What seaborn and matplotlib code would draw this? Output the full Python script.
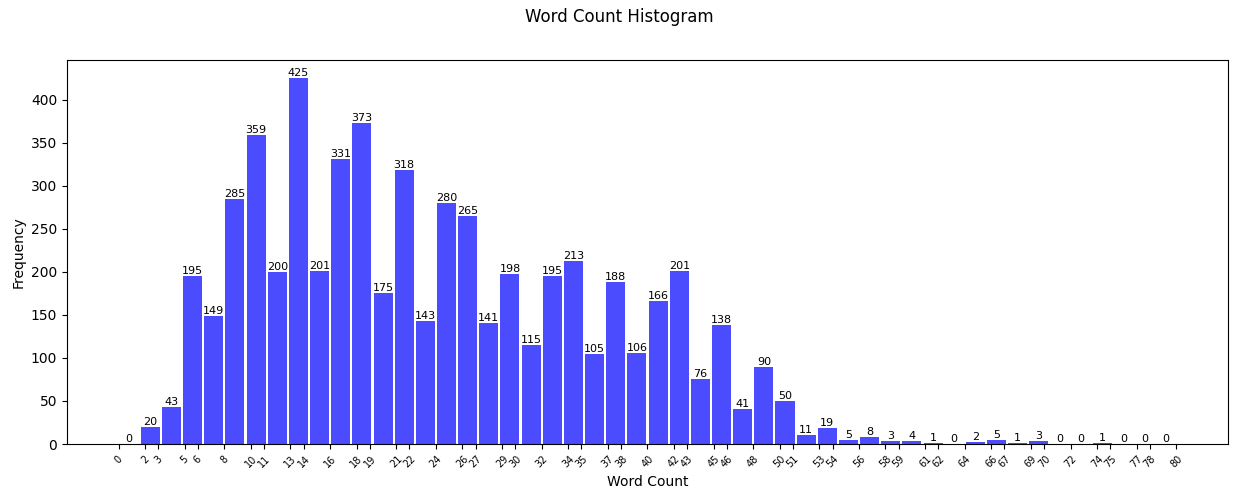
import matplotlib
matplotlib.use("Agg")
import matplotlib.pyplot as plt
import seaborn as sns
import numpy as np

bin_edges = list(np.linspace(0, 80, 51))
counts = [0, 20, 43, 195, 149, 285, 359, 200, 425, 201,
          331, 373, 175, 318, 143, 280, 265, 141, 198, 115,
          195, 213, 105, 188, 106, 166, 201, 76, 138, 41,
          90, 50, 11, 19, 5, 8, 3, 4, 1, 0,
          2, 5, 1, 3, 0, 0, 1, 0, 0, 0]
centers = [(bin_edges[i] + bin_edges[i + 1]) / 2 for i in range(len(counts))]
tick_values = [int(round(e)) for e in bin_edges]
tick_labels = [str(v) for v in tick_values]

fig = plt.figure(figsize=(12.38, 5), dpi=100)
ax = fig.add_axes([0.054, 0.112, 0.938, 0.768])
sns.histplot(x=centers, weights=counts, bins=bin_edges, shrink=0.9,
             color="blue", alpha=0.7, edgecolor="none", linewidth=0, ax=ax)
for c in ax.containers:
    ax.bar_label(c, labels=[str(v) for v in counts], fontsize=8)
ax.set_xticks(tick_values)
ax.set_xticklabels(tick_labels, rotation=45, fontsize=7)
ax.set_xlabel("Word Count")
ax.set_ylabel("Frequency")
fig.suptitle("Word Count Histogram", y=0.985)
fig.savefig("out.png", dpi=100)
